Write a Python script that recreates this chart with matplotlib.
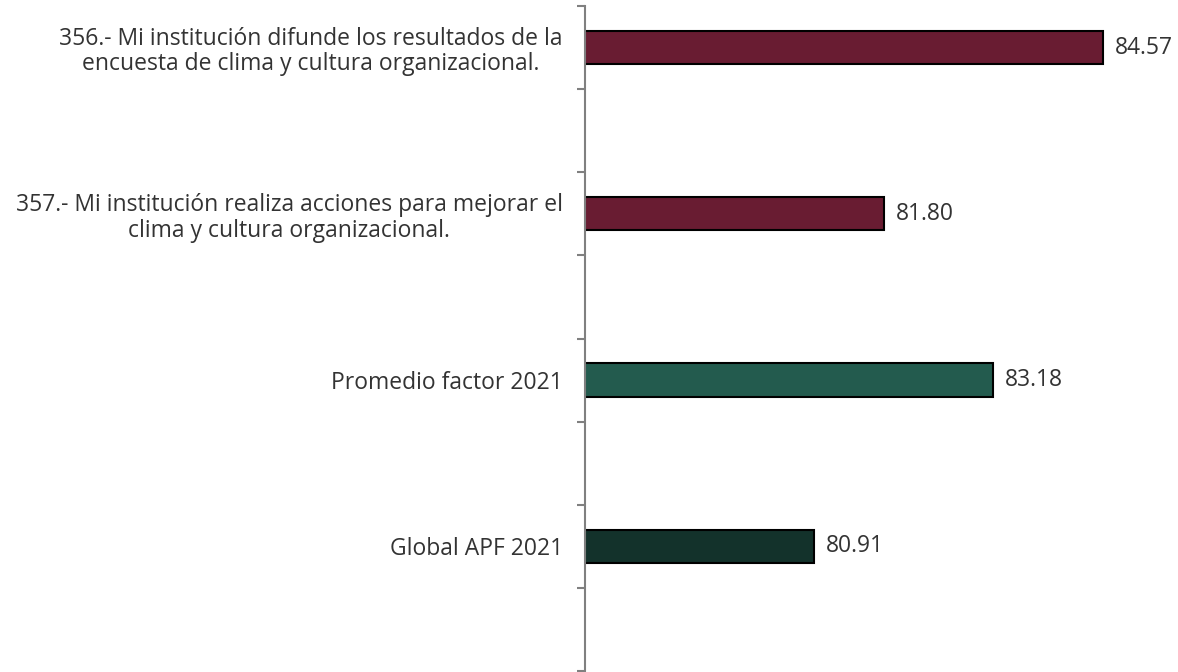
import matplotlib
matplotlib.use("Agg")
import matplotlib.pyplot as plt
from matplotlib.ticker import FixedLocator

labels = [
    "356.- Mi institución difunde los resultados de la\nencuesta de clima y cultura organizacional.",
    "357.- Mi institución realiza acciones para mejorar el\nclima y cultura organizacional.",
    "Promedio factor 2021",
    "Global APF 2021",
]
values = [84.57, 81.80, 83.18, 80.91]
colors = ["#691c32", "#691c32", "#235b4e", "#13322b"]

plt.rcParams['font.family'] = ['Open Sans', 'DejaVu Sans']

fig = plt.figure(figsize=(11.78, 6.72), dpi=100)
ax = fig.add_axes([585 / 1178, 1 / 672, 593 / 1178, 665 / 672])

pos = list(range(len(values)))
ax.barh(pos, values, height=0.2, color=colors, edgecolor="black", linewidth=1.5, left=0)
ax.set_xlim(78, 78 + 593 / 78.8)
ax.set_ylim(3.75, -0.25)

for p, v in zip(pos, values):
    ax.text(v + 0.15, p, f"{v:.2f}", va="center", ha="left", fontsize=16.5, color="#333333")

ax.set_yticks(pos)
ax.set_yticklabels(labels, fontsize=16.5, color="#333333", multialignment="center",
                   linespacing=1.1)
ax.tick_params(axis="y", which="major", length=0, pad=16)
ax.yaxis.set_minor_locator(FixedLocator([-0.25 + 0.5 * i for i in range(9)]))
ax.tick_params(axis="y", which="minor", length=6, width=1.5, color="#808080")

ax.set_xticks([])
for s in ["top", "right", "bottom"]:
    ax.spines[s].set_visible(False)
ax.spines["left"].set_color("#808080")
ax.spines["left"].set_linewidth(1.5)

fig.savefig("out.png", dpi=100)
